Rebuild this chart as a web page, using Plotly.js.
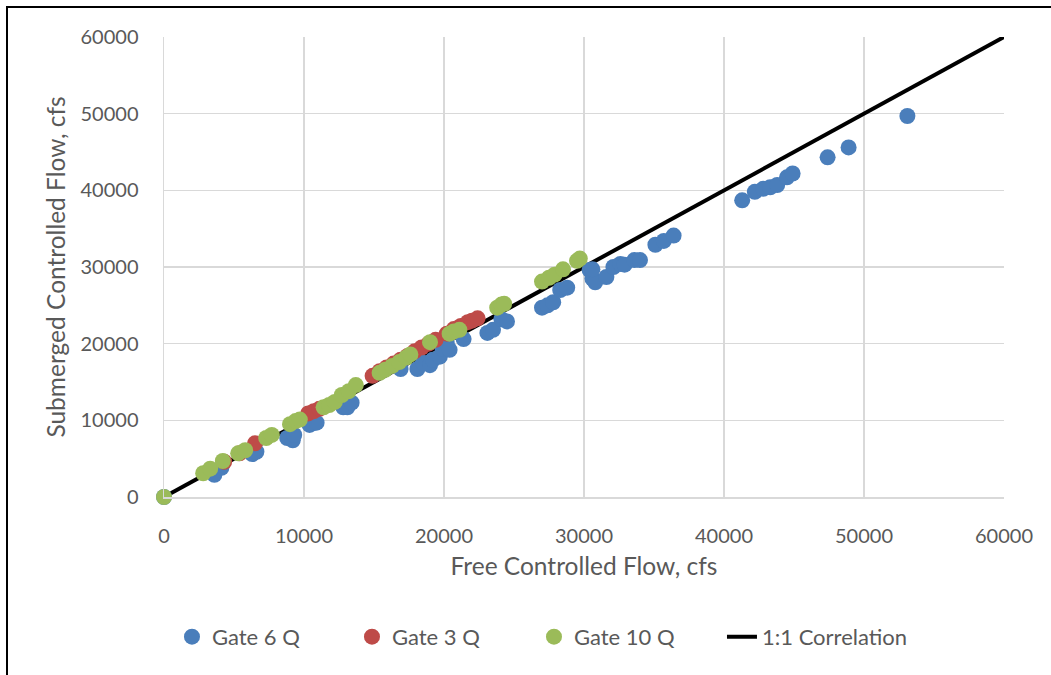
<!DOCTYPE html>
<html>
<head>
<meta charset="utf-8">
<script src="https://cdn.plot.ly/plotly-3.0.1.min.js"></script>
<style>
  html, body { margin: 0; padding: 0; background: #fff; overflow: hidden; }
  #wrap { position: relative; width: 1051px; height: 675px; }
  #chart { position: absolute; left: 0; top: 0; width: 1051px; height: 675px; }
  #frame { position: absolute; left: 6px; top: 6px; width: 1200px; height: 800px;
           border-left: 2px solid #000; border-top: 2px solid #000; pointer-events: none; }
</style>
</head>
<body>
<div id="wrap">
  <div id="chart"></div>
  <div id="frame"></div>
</div>
<script>
// Gate 6 Q (blue)
const gate6X = [0, 3600, 4100, 6300, 6600, 8800, 9200, 9300, 10400, 10600, 10900, 12800, 13100, 13400,
  16900, 18100, 18500, 19000, 19200, 19700, 19900, 20200, 20400, 21400, 23100, 23500, 24100, 24500,
  27000, 27400, 27800, 28300, 28800, 30400, 30600, 30800, 30600, 31600, 32100, 32600, 32900, 33600, 34000,
  35100, 35700, 36400, 41300, 42200, 42800, 43300, 43800, 44500, 44900, 47400, 48900, 53100];
const gate6Y = [0, 2900, 3800, 5600, 5900, 7700, 7400, 8100, 9400, 9600, 9700, 11700, 11700, 12300,
  16700, 16700, 17500, 17200, 17900, 18300, 19300, 20000, 19200, 20600, 21400, 21800, 23200, 22900,
  24700, 25000, 25400, 27000, 27300, 29600, 28500, 28000, 29700, 28700, 30000, 30400, 30300, 30900, 30900,
  32900, 33400, 34100, 38700, 39800, 40200, 40400, 40700, 41700, 42200, 44300, 45600, 49700];

// Gate 3 Q (red)
const gate3X = [4300, 5400, 6500, 10300, 10700, 11100, 14900, 15400, 15900, 16400, 16900, 17400,
  17900, 18400, 18900, 19400, 20200, 20700, 21200, 21700, 22000, 22400];
const gate3Y = [4600, 5700, 7000, 10900, 11200, 11500, 15800, 16400, 16900, 17400, 17900, 18400,
  19000, 19500, 20000, 20500, 21300, 21900, 22300, 22800, 23000, 23300];

// Gate 10 Q (green)
const gate10X = [0, 2800, 3300, 4200, 5300, 5800, 7300, 7700, 9000, 9400, 9700, 11400, 11800, 12200,
  12700, 13200, 13700, 15400, 15800, 16300, 16800, 17300, 17600, 19000, 20400, 20700, 21100,
  23800, 24100, 24300, 27000, 27500, 27900, 28500, 29500, 29700];
const gate10Y = [0, 3100, 3700, 4700, 5700, 6100, 7700, 8100, 9500, 9900, 10100, 11700, 12000, 12400,
  13300, 13800, 14600, 16200, 16600, 17100, 17600, 18200, 18600, 20200, 21300, 21600, 21800,
  24700, 25100, 25200, 28100, 28600, 29000, 29700, 30800, 31100];

// 1:1 Correlation line
const corrX = [0, 60000];
const corrY = [0, 60000];

const tickVals = [0, 10000, 20000, 30000, 40000, 50000, 60000];
const tickText = ["0", "10000", "20000", "30000", "40000", "50000", "60000"];

const FONT = "Lato, 'Open Sans', sans-serif";
const GREY = "#595959";
const GRID = "#d9d9d9";

const mk = (c) => ({ color: c, size: 16, line: { width: 0 } });

const data = [
  { x: corrX, y: corrY, type: "scatter", mode: "lines", name: "1:1 Correlation",
    line: { color: "#000000", width: 4 }, legendrank: 4, legendwidth: 200, cliponaxis: false },
  { x: gate6X, y: gate6Y, type: "scatter", mode: "markers", name: "Gate 6 Q",
    marker: mk("#4A7EBB"), legendrank: 1, legendwidth: 135, cliponaxis: false },
  { x: gate3X, y: gate3Y, type: "scatter", mode: "markers", name: "Gate 3 Q",
    marker: mk("#BE4B48"), legendrank: 2, legendwidth: 137, cliponaxis: false },
  { x: gate10X, y: gate10Y, type: "scatter", mode: "markers", name: "Gate 10 Q",
    marker: mk("#9BBB59"), legendrank: 3, legendwidth: 143, cliponaxis: false }
];

const axisBase = {
  range: [0, 60000],
  tickvals: tickVals,
  ticktext: tickText,
  showgrid: true,
  gridcolor: GRID,
  gridwidth: 1.5,
  zeroline: false,
  showline: true,
  linecolor: GRID,
  linewidth: 1.5,
  ticks: "outside",
  ticklen: 20,
  tickcolor: "rgba(0,0,0,0)",
  tickfont: { family: FONT, size: 20, color: GREY },
  fixedrange: true
};

const layout = {
  width: 1051,
  height: 675,
  margin: { l: 164, r: 47, t: 37, b: 178 },
  paper_bgcolor: "#ffffff",
  plot_bgcolor: "#ffffff",
  showlegend: true,
  xaxis: Object.assign({}, axisBase, {
    title: { text: "Free Controlled Flow, cfs", font: { family: FONT, size: 24.5, color: GREY }, standoff: 12 }
  }),
  yaxis: Object.assign({}, axisBase, {
    title: { text: "Submerged Controlled Flow, cfs", font: { family: FONT, size: 24.5, color: GREY }, standoff: 8 }
  }),
  legend: {
    orientation: "h",
    x: 0.0095, xanchor: "left",
    y: -0.304, yanchor: "middle",
    font: { family: FONT, size: 22, color: GREY },
    traceorder: "normal",
    bgcolor: "rgba(0,0,0,0)"
  }
};

Plotly.newPlot("chart", data, layout, { displayModeBar: false, staticPlot: true });
</script>
</body>
</html>
